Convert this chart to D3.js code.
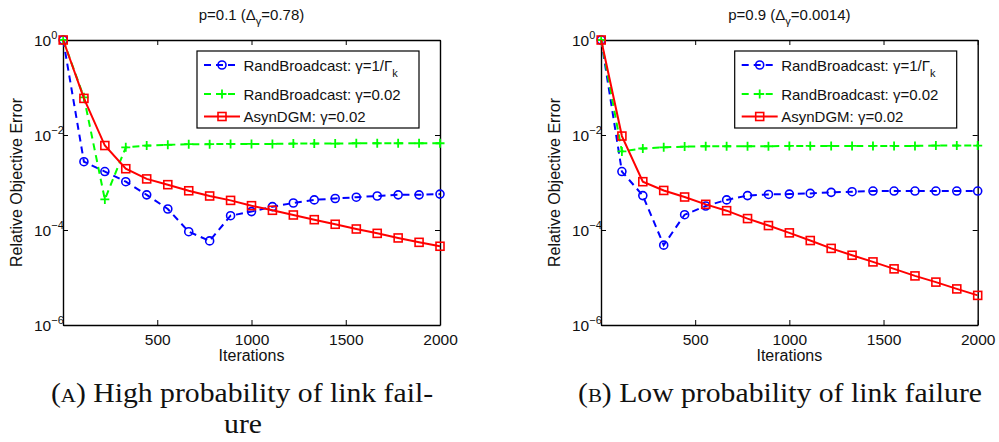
<!DOCTYPE html>
<html>
<head>
<meta charset="utf-8">
<script src="https://cdn.jsdelivr.net/npm/d3@7"></script>
<style>
  body { margin: 0; background: white; }
  svg { display: block; font-family: 'Liberation Sans', Arial, sans-serif; }
</style>
</head>
<body>
<main></main>
<script>
// x positions of the markers (iterations)
const iterations = [1, 111, 222, 333, 444, 556, 667, 778, 889, 1000, 1111, 1222, 1333, 1444, 1556, 1667, 1778, 1889, 2000];
const xTicks = [500, 1000, 1500, 2000];
const yTicks = [1, 1e-2, 1e-4, 1e-6];
const yTickExps = ['0', '\u22122', '\u22124', '\u22126'];

// panel A, p = 0.1
const highRandDecay = [1, 0.00274, 0.0017, 0.00104, 0.00055, 0.000277, 9.2e-5, 5.9e-5, 0.0002, 0.000244, 0.00031, 0.00037, 0.00043, 0.00046, 0.00049, 0.00052, 0.00055, 0.00055, 0.00057];
const highRandConst = [1, 0.062, 0.00044, 0.0055, 0.006, 0.0062, 0.0064, 0.0064, 0.0065, 0.0065, 0.0065, 0.0066, 0.0066, 0.0066, 0.0067, 0.0067, 0.0067, 0.0067, 0.0067];
const highAsyn = [1, 0.059, 0.006, 0.00195, 0.00119, 0.0009, 0.00067, 0.00052, 0.00042, 0.000325, 0.00026, 0.000207, 0.000165, 0.000132, 0.000105, 8.5e-5, 6.8e-5, 5.5e-5, 4.55e-5];

// panel B, p = 0.9
const lowRandDecay = [1, 0.0017, 0.00053, 4.8e-5, 0.00021, 0.00032, 0.00043, 0.00053, 0.00056, 0.00057, 0.00059, 0.00062, 0.00064, 0.00066, 0.00066, 0.00066, 0.00066, 0.00066, 0.00066];
const lowRandConst = [1, 0.0045, 0.0052, 0.0055, 0.0057, 0.0058, 0.0058, 0.0058, 0.0058, 0.0059, 0.0059, 0.0059, 0.0059, 0.0059, 0.0059, 0.0059, 0.006, 0.006, 0.006];
const lowAsyn = [1, 0.0095, 0.00104, 0.00068, 0.000495, 0.000347, 0.000255, 0.000174, 0.000124, 8.7e-5, 6.0e-5, 4.1e-5, 2.94e-5, 2.13e-5, 1.52e-5, 1.08e-5, 8.0e-6, 5.75e-6, 4.2e-6];

const width = 999;
const height = 442;
const plotTop = 40;
const plotBottom = 325;
const blue = '#0000ff';
const green = '#00ff00';
const red = '#ff0000';
const sans = "'Liberation Sans', Arial, sans-serif";
const serif = "'Liberation Serif', 'Times New Roman', serif";

const svg = d3.select('main')
  .append('svg')
  .attr('width', width)
  .attr('height', height)

function drawPanel(opts) {
  const x = d3.scaleLinear().domain([0, 2000]).range([opts.x0, opts.x1]);
  const y = d3.scaleLog().domain([1e-6, 1]).range([plotBottom, plotTop]);
  const g = svg.append('g');

  // box + ticks
  const axes = [
    [d3.axisBottom(x).tickValues(xTicks).tickFormat(d3.format('d')), `translate(0,${plotBottom})`],
    [d3.axisTop(x).tickValues(xTicks).tickFormat(''), `translate(0,${plotTop})`],
    [d3.axisLeft(y).tickValues(yTicks).tickFormat(''), `translate(${opts.x0},0)`],
    [d3.axisRight(y).tickValues(yTicks).tickFormat(''), `translate(${opts.x1},0)`]
  ];
  axes.forEach(([axis, tr]) => {
    const a = g.append('g')
      .attr('transform', tr)
      .call(axis.tickSizeInner(-5).tickSizeOuter(0).tickPadding(9))
    a.select('.domain').attr('stroke', '#000').attr('stroke-width', 1.4)
    a.selectAll('line').attr('stroke', '#000').attr('stroke-width', 1)
    a.selectAll('text')
      .attr('fill', '#111')
      .style('font-size', '15.5px')
      .style('font-family', sans)
  });

  // log tick labels 10^n
  yTicks.forEach((v, i) => {
    const t = g.append('text')
      .attr('x', opts.x0 - 29)
      .attr('y', y(v) + 5.5)
      .style('font-size', '15.5px')
      .style('font-family', sans)
      .attr('fill', '#111')
    t.append('tspan').text('10')
    t.append('tspan').attr('dy', -7).style('font-size', '11px').text(yTickExps[i])
  });

  // title
  const title = g.append('text')
    .attr('x', (opts.x0 + opts.x1) / 2)
    .attr('y', 20)
    .attr('text-anchor', 'middle')
    .style('font-size', '15px')
    .style('font-family', sans)
    .attr('fill', '#111')
  title.append('tspan').text(opts.title[0])
  title.append('tspan').attr('dy', 5).style('font-size', '11px').text('\u03b3')
  title.append('tspan').attr('dy', -5).text(opts.title[1])

  // axis labels
  g.append('text')
    .attr('x', (opts.x0 + opts.x1) / 2)
    .attr('y', 361)
    .attr('text-anchor', 'middle')
    .style('font-size', '16px')
    .style('font-family', sans)
    .attr('fill', '#111')
    .text('Iterations')

  g.append('text')
    .attr('transform', `translate(${opts.x0 - 41},${(plotTop + plotBottom) / 2}) rotate(-90)`)
    .attr('text-anchor', 'middle')
    .style('font-size', '16px')
    .style('font-family', sans)
    .attr('fill', '#111')
    .text('Relative Objective Error')

  const series = [
    { values: opts.randDecay, color: blue, dash: '7,5', marker: 'circle' },
    { values: opts.randConst, color: green, dash: '7,5', marker: 'plus' },
    { values: opts.asyn, color: red, dash: null, marker: 'square' }
  ];

  const line = d3.line()
    .x((d, i) => x(iterations[i]))
    .y(d => y(d))

  function marker(sel, type, color) {
    if (type === 'circle') {
      sel.append('circle').attr('r', 4).attr('fill', 'none').attr('stroke', color).attr('stroke-width', 1.6)
    } else if (type === 'square') {
      sel.append('rect').attr('x', -4).attr('y', -4).attr('width', 8).attr('height', 8)
        .attr('fill', 'none').attr('stroke', color).attr('stroke-width', 1.6)
    } else {
      sel.append('path').attr('d', 'M-4.5,0H4.5M0,-4.5V4.5').attr('stroke', color).attr('stroke-width', 1.8)
    }
  }

  series.forEach(s => {
    g.append('path')
      .datum(s.values)
      .attr('d', line)
      .attr('fill', 'none')
      .attr('stroke', s.color)
      .attr('stroke-width', 2)
      .attr('stroke-dasharray', s.dash)

    g.selectAll(null)
      .data(s.values)
      .enter()
      .append('g')
      .attr('transform', (d, i) => `translate(${x(iterations[i])},${y(d)})`)
      .each(function () { marker(d3.select(this), s.marker, s.color) })
  });

  // legend
  const lx = opts.x1 - 243;
  const legend = g.append('g').attr('transform', `translate(${lx},51)`);
  legend.append('rect')
    .attr('width', 222)
    .attr('height', 77)
    .attr('fill', 'white')
    .attr('stroke', '#000')
    .attr('stroke-width', 1.2)

  const rows = [14, 43, 65.5];
  const labels = [
    ['RandBroadcast: \u03b3=1/\u0393', 'k'],
    ['RandBroadcast: \u03b3=0.02', null],
    ['AsynDGM: \u03b3=0.02', null]
  ];
  series.forEach((s, i) => {
    const row = legend.append('g').attr('transform', `translate(0,${rows[i]})`);
    row.append('line')
      .attr('x1', 7).attr('x2', 43)
      .attr('stroke', s.color)
      .attr('stroke-width', 2)
      .attr('stroke-dasharray', s.dash ? '7,5' : null)
    const m = row.append('g').attr('transform', 'translate(25,0)');
    marker(m, s.marker, s.color)
    const t = row.append('text')
      .attr('x', 46.5)
      .attr('y', 5.5)
      .style('font-size', '15px')
      .style('font-family', sans)
      .attr('fill', '#111')
    t.append('tspan').text(labels[i][0])
    if (labels[i][1]) {
      t.append('tspan').attr('dy', 6).style('font-size', '11px').text(labels[i][1])
    }
  });
}

drawPanel({
  x0: 63, x1: 440,
  title: ['p=0.1 (\u0394', '=0.78)'],
  randDecay: highRandDecay, randConst: highRandConst, asyn: highAsyn
});

drawPanel({
  x0: 601, x1: 977.7,
  title: ['p=0.9 (\u0394', '=0.0014)'],
  randDecay: lowRandDecay, randConst: lowRandConst, asyn: lowAsyn
});

// captions, slightly stretched to mimic the wider LaTeX face
function captionText(cx, y) {
  return svg.append('text')
    .attr('transform', `translate(${cx},${y}) scale(1.1,1)`)
    .attr('text-anchor', 'middle')
    .style('font-family', serif)
    .style('font-size', '27px')
    .attr('fill', '#111')
}
function caption(cx, y, letter, rest) {
  const t = captionText(cx, y)
  t.append('tspan').text('(')
  t.append('tspan').style('font-size', '19px').text(letter)
  t.append('tspan').text(') ' + rest)
}
caption(242, 402, 'A', 'High probability of link fail-')
captionText(243, 433).text('ure')
caption(780, 402, 'B', 'Low probability of link failure')
</script>
</body>
</html>
